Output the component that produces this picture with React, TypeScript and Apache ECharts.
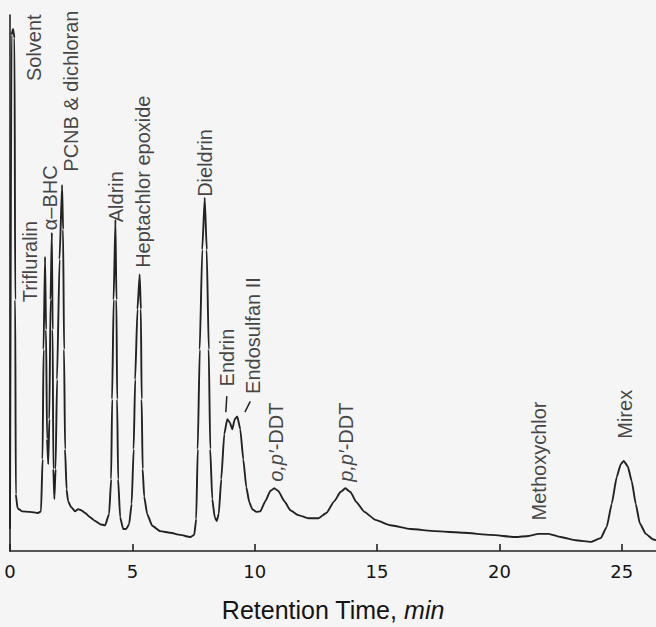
import { useEffect, useRef } from "react";
import * as echarts from "echarts";

// Detector trace: retention time (min) and response (% of full scale)
const retentionTime = [
  0.0, 0.061, 0.123, 0.184, 0.213, 0.237, 0.307, 0.491, 0.818, 1.146, 1.268,
  1.33, 1.371, 1.432, 1.473, 1.514, 1.563, 1.608, 1.657, 1.71, 1.743, 1.771,
  1.813, 1.862, 1.923, 2.025, 2.128, 2.169, 2.209, 2.25, 2.312, 2.373, 2.496,
  2.66, 2.782, 2.905, 3.069, 3.273, 3.478, 3.682, 3.887, 4.051, 4.133, 4.174,
  4.235, 4.308, 4.349, 4.378, 4.419, 4.501, 4.624, 4.746, 4.869, 4.971, 5.053,
  5.115, 5.209, 5.299, 5.348, 5.38, 5.421, 5.483, 5.606, 5.81, 6.137, 6.547,
  6.956, 7.365, 7.529, 7.61, 7.672, 7.754, 7.856, 7.958, 8.04, 8.122, 8.183,
  8.265, 8.367, 8.449, 8.531, 8.633, 8.756, 8.879, 8.981, 9.083, 9.185, 9.288,
  9.411, 9.534, 9.657, 9.78, 9.902, 10.065, 10.229, 10.434, 10.638, 10.802,
  10.966, 11.211, 11.457, 11.784, 12.193, 12.602, 12.93, 13.257, 13.502,
  13.707, 13.912, 14.157, 14.484, 14.935, 15.548, 16.367, 17.39, 18.535,
  19.64, 20.663, 21.195, 21.604, 22.013, 22.504, 23.118, 23.732, 24.141,
  24.386, 24.591, 24.795, 24.959, 25.082, 25.245, 25.409, 25.573, 25.736,
  25.982, 26.268, 26.4,
];
const response = [
  4.1, 96.3, 97.4, 95.7, 46.9, 10.6, 8.0, 7.4, 7.3, 7.1, 7.4,
  17.1, 37.6, 54.9, 41.3, 20.9, 16.2, 24.6, 46.9, 59.4, 41.3, 15.3,
  9.7, 15.3, 32.0, 54.4, 68.3, 60.0, 37.6, 19.0, 11.5, 9.3, 8.2,
  7.4, 7.8, 7.6, 7.1, 6.3, 5.6, 5.0, 4.8, 6.9, 13.4, 28.3,
  46.9, 61.8, 46.9, 28.3, 13.4, 6.3, 4.1, 4.1, 5.0, 8.8, 19.0,
  32.0, 45.1, 51.6, 45.1, 28.3, 15.3, 10.2, 6.9, 4.7, 3.7, 3.4,
  3.0, 2.6, 3.0, 6.0, 19.0, 37.6, 56.2, 65.9, 56.2, 37.6, 19.0,
  9.7, 6.3, 5.6, 6.9, 13.4, 21.8, 24.6, 24.0, 22.7, 24.6, 25.1,
  22.7, 17.1, 11.9, 9.1, 7.8, 7.3, 7.4, 9.3, 11.2, 11.7,
  11.2, 9.3, 7.6, 6.7, 6.1, 6.1, 7.1, 9.3, 11.0,
  11.7, 11.0, 9.1, 7.3, 5.8, 4.8, 4.1, 3.7, 3.4,
  3.0, 2.6, 2.8, 3.2, 3.2, 2.6, 2.0, 1.7, 2.4,
  4.5, 8.8, 13.8, 16.2, 16.8, 15.8, 13.0, 8.8, 5.2,
  3.2, 2.2, 2.0,
];

// Compound names and where each name sits (time, response of the label centre)
const peakNames = [
  "Solvent",
  "Trifluralin",
  "α–BHC",
  "PCNB & dichloran",
  "Aldrin",
  "Heptachlor epoxide",
  "Dieldrin",
  "Endrin",
  "Endosulfan II",
  "{i|o,p′}-DDT",
  "{i|p,p′}-DDT",
  "Methoxychlor",
  "Mirex",
];
const labelTime = [0.98, 0.82, 1.64, 2.5, 4.34, 5.44, 7.98, 8.88, 9.94, 10.88, 13.75, 21.6, 25.12];
const labelResponse = [93.9, 54.0, 65.9, 85.8, 66.1, 68.9, 72.4, 36.1, 40.2, 20.3, 20.3, 16.8, 25.5];

// Short leader strokes for the two overlapping peaks (Endrin, Endosulfan II)
const leaderStart = [
  [8.86, 28.9],
  [9.82, 27.9],
];
const leaderEnd = [
  [8.82, 25.9],
  [9.6, 25.9],
];

const tickValues = [0, 5, 10, 15, 20, 25];

export default function App() {
  const ref = useRef<HTMLDivElement>(null);

  useEffect(() => {
    if (!ref.current) return;
    const chart = echarts.init(ref.current, null, { renderer: "svg" });
    const ink = "#222222";
    const textInk = "#141414";
    const trace = retentionTime.map((t, i) => [t, response[i]]);
    const labels = peakNames.map((name, i) => ({
      name,
      value: [labelTime[i], labelResponse[i]],
    }));

    chart.setOption({
      animation: false,
      backgroundColor: "#f5f5f5",
      grid: { left: 10, right: 0, top: 15, bottom: 75 },
      xAxis: {
        type: "value",
        min: 0,
        max: 26.4,
        interval: 5,
        name: "{r|Retention Time, }{i|min}",
        nameLocation: "middle",
        nameGap: 46,
        nameTextStyle: {
          rich: {
            r: { fontFamily: "Liberation Sans", fontSize: 25, color: textInk },
            i: { fontFamily: "Liberation Sans", fontSize: 25, fontStyle: "italic", color: textInk },
          },
        },
        axisLine: { show: true, lineStyle: { color: ink, width: 1.6 } },
        axisTick: {
          show: true,
          inside: true,
          length: 7,
          customValues: tickValues,
          lineStyle: { color: ink, width: 1.6 },
        },
        axisLabel: {
          customValues: tickValues,
          margin: 11,
          fontFamily: "DejaVu Sans",
          fontSize: 18,
          color: textInk,
        },
        splitLine: { show: false },
      },
      yAxis: {
        type: "value",
        min: 0,
        max: 100,
        axisLine: { show: true, lineStyle: { color: ink, width: 1.6 } },
        axisTick: { show: false },
        axisLabel: { show: false },
        splitLine: { show: false },
      },
      series: [
        {
          type: "line",
          data: trace,
          showSymbol: false,
          smooth: 0.15,
          smoothMonotone: "x",
          lineStyle: { color: ink, width: 1.9 },
          markLine: {
            silent: true,
            symbol: ["none", "none"],
            label: { show: false },
            lineStyle: { color: ink, width: 1.5, type: "solid" },
            data: leaderStart.map((s, i) => [{ coord: s }, { coord: leaderEnd[i] }]),
          },
        },
        {
          type: "scatter",
          data: labels,
          symbolSize: 1,
          itemStyle: { color: "rgba(0,0,0,0)" },
          label: {
            show: true,
            position: "inside",
            rotate: 90,
            align: "center",
            verticalAlign: "middle",
            formatter: (p: any) => p.name,
            fontFamily: "Liberation Sans",
            fontSize: 20,
            color: textInk,
            rich: {
              i: { fontFamily: "Liberation Sans", fontSize: 20, fontStyle: "italic", color: textInk },
            },
          },
        },
      ],
    });

    return () => chart.dispose();
  }, []);

  return (
    <div
      ref={ref}
      style={{ position: "fixed", left: 0, top: 0, width: 656, height: 627 }}
    />
  );
}
